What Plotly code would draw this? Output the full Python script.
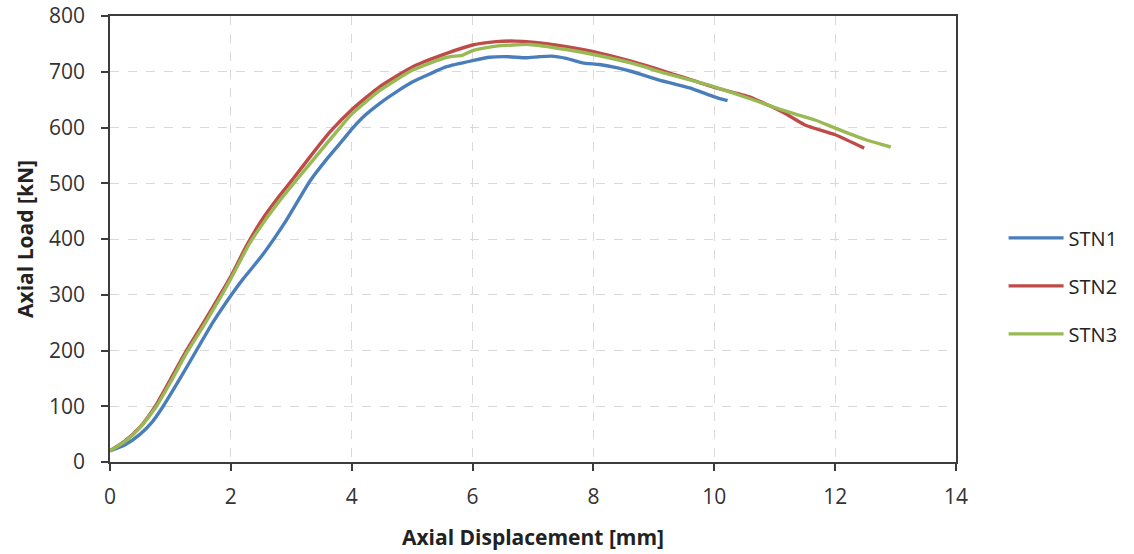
import plotly.graph_objects as go

# Axial displacement [mm] and axial load [kN] for each specimen
stn1_disp = [0, 0.25, 0.5, 0.7, 0.88, 1.15, 1.43, 1.7, 2.01, 2.2, 2.5, 2.92, 3.31,
             3.6, 3.88, 4.0, 4.19, 4.46, 4.74, 5.01, 5.29, 5.57, 6.0, 6.28, 6.6, 6.88,
             7.1, 7.3, 7.55, 7.82, 8.1, 8.4, 8.65, 9.09, 9.59, 10.0, 10.22]
stn1_load = [20, 31, 50, 72, 100, 148, 200, 250, 300, 328, 368, 434, 504,
             545, 581, 597, 619, 643, 664, 682, 696, 709, 720, 726, 727, 725,
             727, 728, 724, 716, 713, 707, 700, 685, 671, 655, 648]

stn2_disp = [0, 0.25, 0.5, 0.75, 1.0, 1.25, 1.52, 1.78, 2.0, 2.26, 2.53, 2.78, 3.03,
             3.3, 3.64, 4.0, 4.46, 5.01, 5.57, 6.0, 6.39, 6.7, 6.99, 7.55, 8.0, 8.65,
             9.2, 10.0, 10.58, 11.13, 11.51, 12.0, 12.48]
stn2_load = [20, 38, 63, 100, 148, 197, 245, 292, 333, 388, 437, 474, 508,
             546, 592, 632, 673, 709, 733, 748, 754, 755, 753, 745, 736, 718,
             700, 672, 655, 628, 604, 587, 563]

stn3_disp = [0, 0.25, 0.5, 0.77, 1.0, 1.27, 1.54, 1.81, 2.0, 2.31, 2.59, 2.83, 3.08,
             3.4, 3.8, 4.0, 4.46, 5.01, 5.57, 5.84, 6.0, 6.39, 6.94, 7.55, 8.0, 8.65,
             9.2, 10.0, 10.58, 11.13, 11.68, 12.0, 12.51, 12.92]
stn3_load = [20, 37, 62, 100, 143, 196, 243, 292, 329, 392, 437, 472, 505,
             547, 599, 624, 666, 703, 726, 730, 738, 746, 749, 740, 731, 715,
             697, 673, 652, 631, 613, 599, 578, 565]

x_ticks = [0, 2, 4, 6, 8, 10, 12, 14]
y_ticks = [0, 100, 200, 300, 400, 500, 600, 700, 800]

series = [
    ("STN1", stn1_disp, stn1_load, "#4A7EBB"),
    ("STN2", stn2_disp, stn2_load, "#BE4B48"),
    ("STN3", stn3_disp, stn3_load, "#98B954"),
]

fig = go.Figure()
for name, xs, ys, color in series:
    fig.add_trace(go.Scatter(
        x=xs, y=ys, name=name, mode="lines", legendgroup=name,
        line=dict(color=color, width=3.4, shape="spline", smoothing=0.5),
    ))

font_family = "Open Sans, Liberation Sans, sans-serif"
axis_common = dict(
    showline=True, linecolor="#3c3c3c", linewidth=1.5, mirror=True,
    ticks="outside", ticklen=7, tickcolor="#3c3c3c", tickwidth=1.5,
    showgrid=True, gridcolor="#d9d9d9", griddash="dash", gridwidth=1,
    zeroline=False, automargin=False,
    tickfont=dict(family=font_family, size=21, color="#333333"),
)

fig.update_xaxes(
    range=[0, 14], tickvals=x_ticks, ticklabelstandoff=8,
    title=dict(text="<b>Axial Displacement [mm]</b>", standoff=21,
               font=dict(family=font_family, size=21, color="#222222")),
    **axis_common,
)
fig.update_yaxes(
    range=[0, 800], tickvals=y_ticks, ticklabelstandoff=12,
    title=dict(text="<b>Axial Load [kN]</b>", standoff=10,
               font=dict(family=font_family, size=21, color="#222222")),
    **axis_common,
)

fig.update_layout(
    width=1134, height=554,
    margin=dict(l=110, r=177, t=16, b=92),
    paper_bgcolor="white", plot_bgcolor="white",
    showlegend=True,
    legend=dict(
        x=1.055, y=0.395, xanchor="left", yanchor="middle",
        traceorder="grouped", tracegroupgap=19, itemwidth=55,
        font=dict(family=font_family, size=20, color="#222222"),
        bgcolor="rgba(0,0,0,0)",
    ),
)

fig.write_html("out.html")
